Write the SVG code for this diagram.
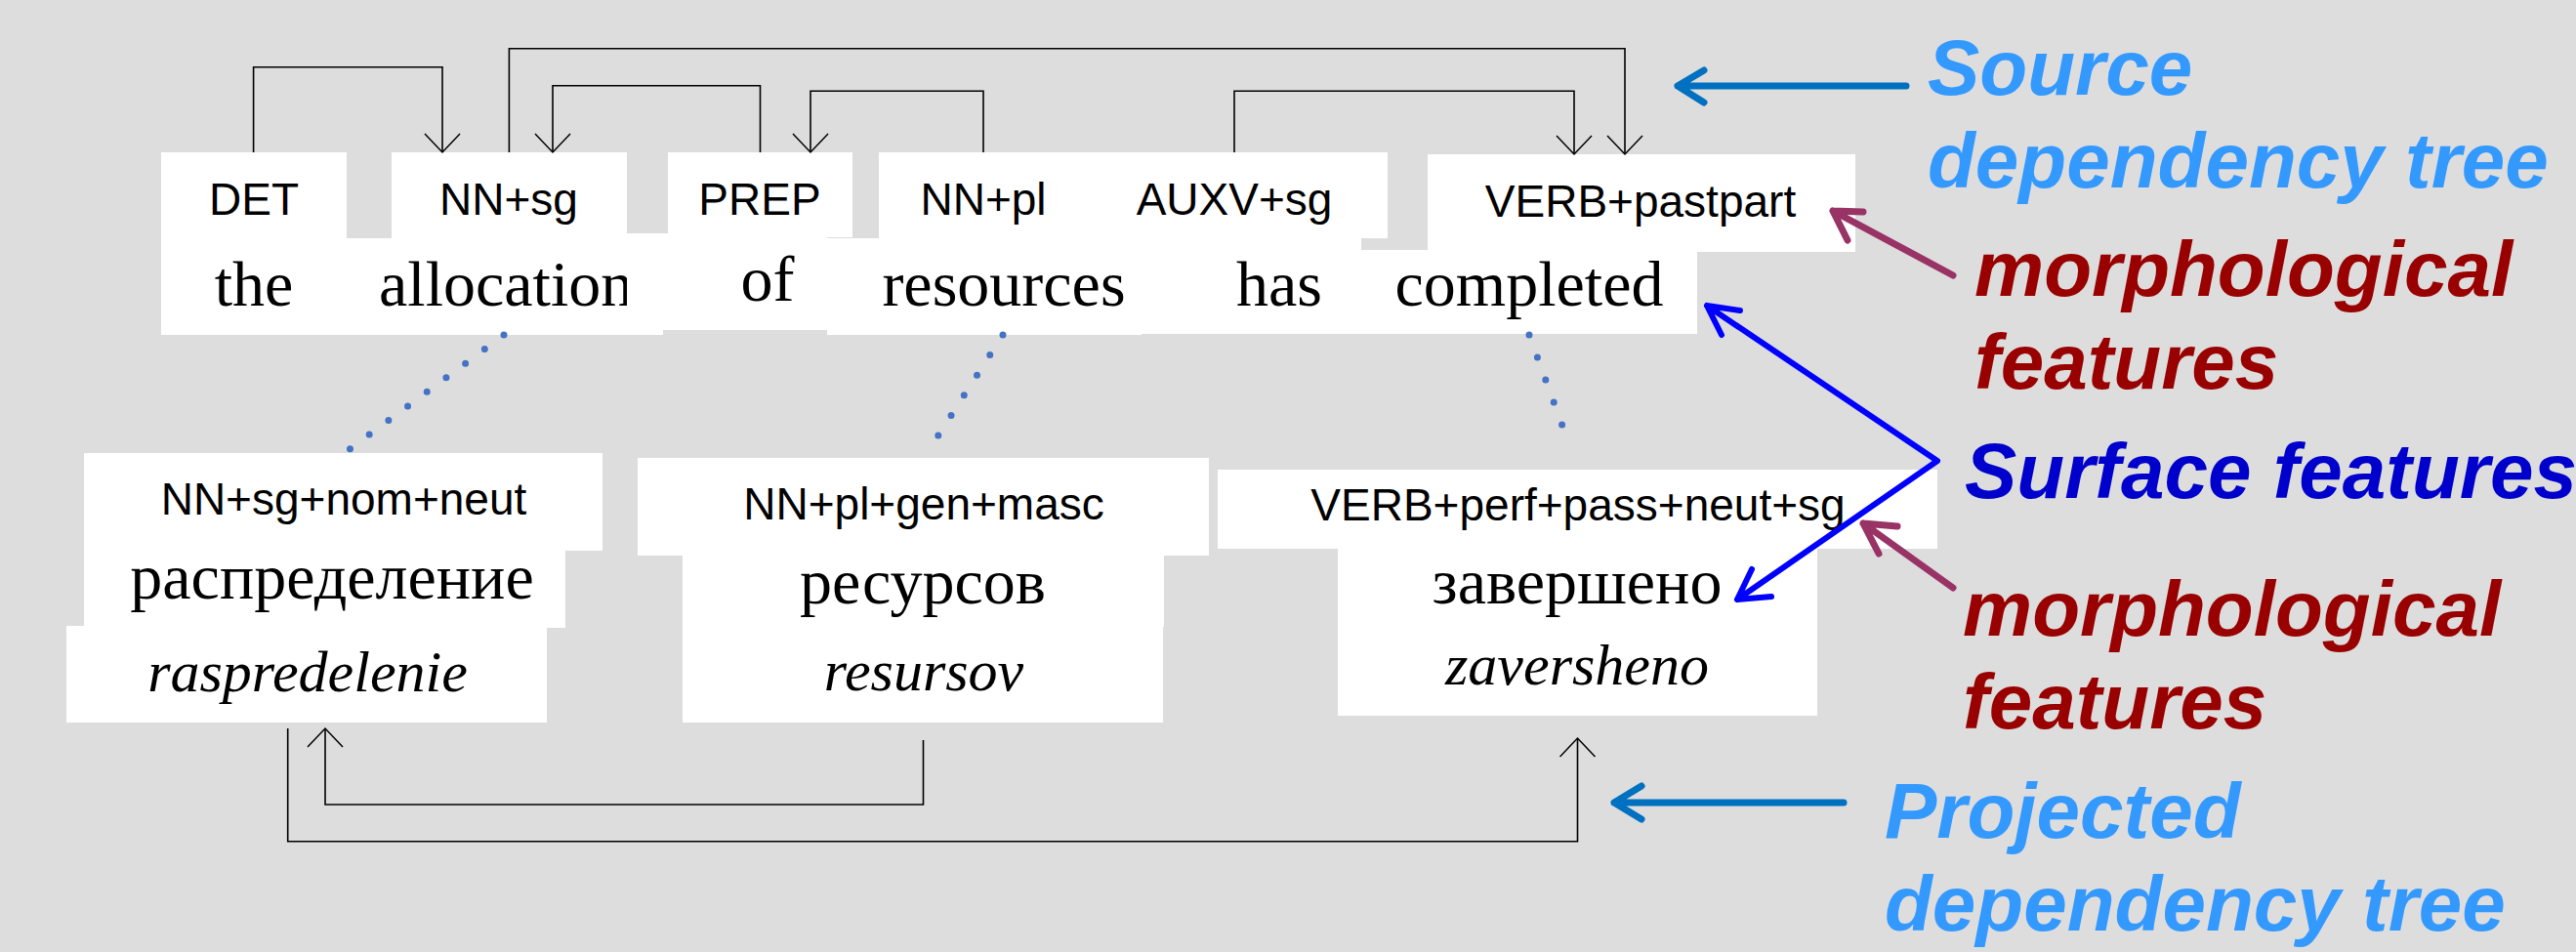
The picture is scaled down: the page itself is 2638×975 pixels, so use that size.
<svg xmlns="http://www.w3.org/2000/svg" width="2638" height="975" viewBox="0 0 2638 975">
<style>
.bx{fill:#ffffff}
.tag{font-family:"Liberation Sans",Arial,sans-serif;font-size:46px;fill:#000;text-anchor:middle}
.wd{font-family:"Liberation Serif","Times New Roman",serif;font-size:66px;fill:#000;text-anchor:middle}
.tr{font-family:"Liberation Serif","Times New Roman",serif;font-size:60px;font-style:italic;fill:#000;text-anchor:middle}
.dep{fill:none;stroke:#000;stroke-width:1.6}
.dot{fill:none;stroke:#4472C4;stroke-width:7;stroke-linecap:round;stroke-dasharray:0 24.5}
.ann{font-family:"Liberation Sans",Arial,sans-serif;font-size:80px;font-weight:bold;font-style:italic}
.ar{fill:none;stroke-linecap:round;stroke-linejoin:round}
</style>
<defs>
<marker id="openv" markerUnits="userSpaceOnUse" viewBox="-1 -1 22 38" markerWidth="22" markerHeight="38" refX="19" refY="18" orient="auto">
<path d="M0,0 L19,18 L0,36" fill="none" stroke="#000" stroke-width="1.5"/>
</marker>
</defs>
<rect width="2638" height="975" fill="#DDDDDD"/>

<g id="src-the">
<rect class="bx" x="165" y="156" width="190" height="187"/>
<text class="tag" x="260" y="220">DET</text>
<text class="wd" x="260" y="313">the</text>
</g>
<g id="src-allocation">
<rect class="bx" x="401" y="156" width="241" height="90"/>
<rect class="bx" x="355" y="244" width="324" height="99"/>
<text class="tag" x="521" y="220">NN+sg</text>
<text class="wd" x="388" y="313" style="text-anchor:start">allocation</text>
</g>
<g id="src-of">
<rect class="bx" x="684" y="156" width="189" height="87"/>
<rect class="bx" x="642" y="239" width="205" height="99"/>
<text class="tag" x="778" y="220">PREP</text>
<text class="wd" x="786" y="308">of</text>
</g>
<g id="src-resources">
<rect class="bx" x="900" y="156" width="521" height="88"/>
<rect class="bx" x="847" y="244" width="322" height="99"/>
<text class="tag" x="1007" y="220">NN+pl</text>
<text class="wd" x="1028" y="313">resources</text>
</g>
<g id="src-has">
<rect class="bx" x="1169" y="244" width="225" height="98"/>
<text class="tag" x="1264" y="220">AUXV+sg</text>
<text class="wd" x="1310" y="313">has</text>
</g>
<g id="src-completed">
<rect class="bx" x="1462" y="158" width="438" height="100"/>
<rect class="bx" x="1394" y="256" width="344" height="86"/>
<text class="tag" x="1680" y="222">VERB+pastpart</text>
<text class="wd" x="1566" y="313">completed</text>
</g>

<g id="tgt-raspredelenie">
<rect class="bx" x="86" y="464" width="531" height="100"/>
<rect class="bx" x="86" y="563" width="493" height="80"/>
<rect class="bx" x="68" y="641" width="492" height="99"/>
<text class="tag" x="352" y="527">NN+sg+nom+neut</text>
<text class="wd" x="340" y="613">распределение</text>
<text class="tr" x="315" y="708">raspredelenie</text>
</g>
<g id="tgt-resursov">
<rect class="bx" x="653" y="469" width="585" height="100"/>
<rect class="bx" x="699" y="568" width="493" height="74"/>
<rect class="bx" x="699" y="641" width="492" height="99"/>
<text class="tag" x="946" y="532">NN+pl+gen+masc</text>
<text class="wd" x="945" y="618">ресурсов</text>
<text class="tr" x="946" y="707">resursov</text>
</g>
<g id="tgt-zaversheno">
<rect class="bx" x="1247" y="481" width="737" height="81"/>
<rect class="bx" x="1370" y="561" width="491" height="74"/>
<rect class="bx" x="1370" y="634" width="491" height="99"/>
<text class="tag" x="1616" y="533">VERB+perf+pass+neut+sg</text>
<text class="wd" x="1615" y="618">завершено</text>
<text class="tr" x="1615" y="701">zaversheno</text>
</g>

<g id="connectors">
<path class="dep" d="M259.6,156 V68.7 H453 V156" marker-end="url(#openv)"/>
<path class="dep" d="M521.4,156 V49.7 H1664 V158" marker-end="url(#openv)"/>
<path class="dep" d="M778.5,156 V87.7 H566 V156" marker-end="url(#openv)"/>
<path class="dep" d="M1007,156 V93.3 H830 V156" marker-end="url(#openv)"/>
<path class="dep" d="M1264,156 V93.3 H1612 V158" marker-end="url(#openv)"/>
<path class="dep" d="M294.7,746 V861.7 H1615.5 V756" marker-end="url(#openv)"/>
<path class="dep" d="M945.5,758 V824 H333 V746" marker-end="url(#openv)"/>
<line class="dot" x1="516" y1="343" x2="358" y2="460"/>
<line class="dot" x1="1027" y1="343" x2="948" y2="466"/>
<line class="dot" x1="1566" y1="343" x2="1608" y2="458"/>
</g>

<g id="label-source">
<path class="ar" d="M1952,88 H1718 M1745,72 L1718,88 L1745,105" stroke="#0070C0" stroke-width="7"/>
<text class="ann" fill="#3399FF" x="1974" y="97">Source</text>
<text class="ann" fill="#3399FF" x="1974" y="192">dependency tree</text>
</g>
<g id="label-morph-1">
<path class="ar" d="M2000,282 L1877,216 M1908,217 L1877,216 L1892,246" stroke="#993366" stroke-width="7"/>
<text class="ann" fill="#990000" x="2022" y="303">morphological</text>
<text class="ann" fill="#990000" x="2022" y="398">features</text>
</g>
<g id="label-surface">
<path class="ar" d="M1748,313 L1984,472 L1779,614 M1782,318 L1748,313 L1763,343 M1814,611 L1779,614 L1794,583" stroke="#0000FF" stroke-width="6"/>
<text class="ann" fill="#0000CC" x="2012" y="510">Surface features</text>
</g>
<g id="label-morph-2">
<path class="ar" d="M2000,602 L1908,536 M1943,539 L1908,536 L1924,567" stroke="#993366" stroke-width="7"/>
<text class="ann" fill="#990000" x="2010" y="651">morphological</text>
<text class="ann" fill="#990000" x="2010" y="746">features</text>
</g>
<g id="label-projected">
<path class="ar" d="M1888,822 H1653 M1681,805 L1653,822 L1681,839" stroke="#0070C0" stroke-width="7"/>
<text class="ann" fill="#3399FF" x="1930" y="858">Projected</text>
<text class="ann" fill="#3399FF" x="1930" y="953">dependency tree</text>
</g>
</svg>
